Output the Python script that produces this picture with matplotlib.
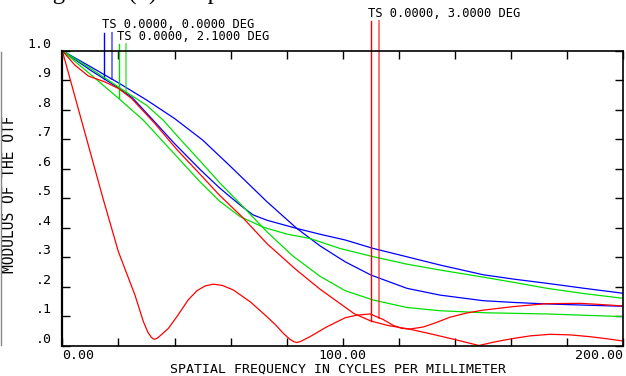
import numpy as np
import matplotlib
matplotlib.use("Agg")
import matplotlib.pyplot as plt
from matplotlib.lines import Line2D

# spatial frequency (cycles/mm) and modulus, per curve
blue_t_f = [0, 5, 10, 15, 20, 25, 32.4, 40, 49.1, 56, 60, 64.5, 68, 72.9, 83.6, 92, 100.8, 110.9, 122.8, 134.6, 150, 161, 172.7, 186, 200]
blue_t_v = [1.0, 0.967, 0.934, 0.904, 0.874, 0.84, 0.764, 0.685, 0.597, 0.535, 0.503, 0.468, 0.443, 0.425, 0.397, 0.377, 0.358, 0.329, 0.301, 0.273, 0.24, 0.225, 0.211, 0.194, 0.177]

blue_s_f = [0, 10, 20, 30, 40, 50, 60, 72.9, 83.6, 92, 100.8, 110, 122.8, 134.6, 150, 161, 172.7, 186, 200]
blue_s_v = [1.0, 0.946, 0.891, 0.833, 0.77, 0.697, 0.607, 0.488, 0.397, 0.337, 0.284, 0.239, 0.194, 0.171, 0.152, 0.146, 0.141, 0.137, 0.133]

green_t_f = [0, 10, 20.1, 28.9, 38, 49.1, 56, 63.4, 71.7, 80, 88.3, 99, 110.9, 122.8, 134.6, 150, 161, 172.7, 186, 200]
green_t_v = [1.0, 0.92, 0.838, 0.764, 0.67, 0.555, 0.49, 0.437, 0.401, 0.378, 0.363, 0.329, 0.301, 0.276, 0.256, 0.232, 0.214, 0.194, 0.176, 0.16]

green_s_f = [0, 10, 22.7, 30, 36, 42, 49.1, 56, 64.5, 73, 82, 91.8, 100.8, 110.9, 122.8, 134.6, 150.7, 172.7, 200]
green_s_v = [1.0, 0.94, 0.86, 0.815, 0.764, 0.70, 0.626, 0.553, 0.47, 0.385, 0.305, 0.235, 0.186, 0.154, 0.129, 0.118, 0.111, 0.107, 0.098]

red_t_f = [0, 4.5, 9.3, 15.2, 20, 24.7, 33, 40.8, 49.1, 56, 64, 73, 83.6, 92, 100.8, 104, 110, 116, 124, 132, 140, 148.5,
           154, 160.8, 167, 174, 181, 188, 194, 200]
red_t_v = [1.0, 0.951, 0.914, 0.894, 0.872, 0.838, 0.753, 0.665, 0.581, 0.51, 0.437, 0.345, 0.255, 0.19, 0.13, 0.108, 0.083, 0.068, 0.055, 0.038, 0.02, 0.0,
           0.012, 0.024, 0.033, 0.038, 0.036, 0.03, 0.023, 0.015]

red_s_f = [0, 7, 14.6, 20, 25.9, 28.9, 30.5, 31.8, 32.7, 33.7, 35, 37.8, 41, 44.9, 48, 50.9, 53.8, 57, 61, 67, 72.9, 76, 78.8, 81, 82.5, 83.6,
           85, 88.3, 94, 100.8, 105, 109.7, 114.4, 118, 121, 124, 128.7, 133, 138.2, 144, 150, 160.8, 172.7, 184.6, 192, 200]
red_s_v = [1.0, 0.758, 0.496, 0.318, 0.171, 0.081, 0.045, 0.027, 0.021, 0.024, 0.034, 0.058, 0.1, 0.155, 0.186, 0.202, 0.208, 0.204, 0.188, 0.148, 0.098, 0.07, 0.041, 0.022, 0.013, 0.01,
           0.014, 0.03, 0.062, 0.094, 0.103, 0.107, 0.088, 0.068, 0.058, 0.056, 0.063, 0.077, 0.096, 0.11, 0.12, 0.132, 0.142, 0.143, 0.139, 0.134]

field_labels = ["TS 0.0000, 0.0000 DEG", "TS 0.0000, 2.1000 DEG", "TS 0.0000, 3.0000 DEG"]
colors = ["#0000ff", "#00e000", "#ff0000"]
# frequencies where the T / S marker lines drop onto their curves
marker_f = [(15.0, 17.7), (20.1, 22.7), (110.0, 112.8)]
marker_top = [1.059, 1.022, 1.100]
label_pos = [(14.0, 1.089), (19.4, 1.049), (109.1, 1.127)]

curves = [(blue_t_f, blue_t_v, blue_s_f, blue_s_v),
          (green_t_f, green_t_v, green_s_f, green_s_v),
          (red_t_f, red_t_v, red_s_f, red_s_v)]

mono = "DejaVu Sans Mono"

fig = plt.figure(figsize=(6.26, 3.76), dpi=100)
ax = fig.add_axes([0.0995, 0.0811, 0.8965, 0.7841])

for i, (tf, tv, sf, sv) in enumerate(curves):
    c = colors[i]
    ax.plot(tf, tv, color=c, lw=0.9)
    ax.plot(sf, sv, color=c, lw=0.9)
    ft, fs = marker_f[i]
    yt = np.interp(ft, tf, tv)
    ys = np.interp(fs, sf, sv)
    ax.plot([ft, ft], [yt, marker_top[i]], color=c, lw=1.0, clip_on=False)
    ax.plot([fs, fs], [ys, marker_top[i]], color=c, lw=1.4, alpha=0.55, clip_on=False)
    ax.text(label_pos[i][0], label_pos[i][1], field_labels[i], family=mono,
            fontsize=8.7, ha="left", va="center", clip_on=False)

ax.set_xlim(0, 200)
ax.set_ylim(0, 1.0)

xt = np.arange(0, 201, 20)
ax.set_xticks(xt)
ax.set_xticklabels(["0.00" if t == 0 else "100.00" if t == 100 else "200.00" if t == 200 else "" for t in xt],
                   family=mono, fontsize=9.5)
yt_ = np.round(np.arange(0, 1.01, 0.1), 1)
ax.set_yticks(yt_)
ax.set_yticklabels([".%d" % round(v * 10) if v < 1 else "1.0" for v in yt_], family=mono, fontsize=9.5)
for lab in ax.get_xticklabels():
    if lab.get_text() == "0.00":
        lab.set_ha("left")
    elif lab.get_text() == "200.00":
        lab.set_ha("right")
for lab in ax.get_yticklabels():
    lab.set_va("bottom")

ax.tick_params(direction="in", top=True, right=True, length=6, width=1.0, color="black")
ax.tick_params(axis="x", pad=2.5)
ax.tick_params(axis="y", pad=7.6)
for s in ax.spines.values():
    s.set_linewidth(1.2)
    s.set_color("black")
ax.spines["left"].set_linewidth(1.6)

ax.set_xlabel("SPATIAL FREQUENCY IN CYCLES PER MILLIMETER", family=mono, fontsize=9.5, va="bottom")
ax.xaxis.set_label_coords(0.491, -0.1030)
ax.set_ylabel("MODULUS OF THE OTF", family=mono, fontsize=10.5)
ax.yaxis.set_label_coords(-0.0807, 0.514)

# cropped caption line from the page above the plot
fig.text(0.0516, 1.0013, "Figure 12(b) Sample MTF", family="Liberation Serif", fontsize=17.9,
         ha="left", va="baseline")
fig.add_artist(Line2D([0.001, 0.001], [0.082, 0.862], transform=fig.transFigure, color="#888888", lw=1.0))

fig.savefig("out.png", dpi=100)
